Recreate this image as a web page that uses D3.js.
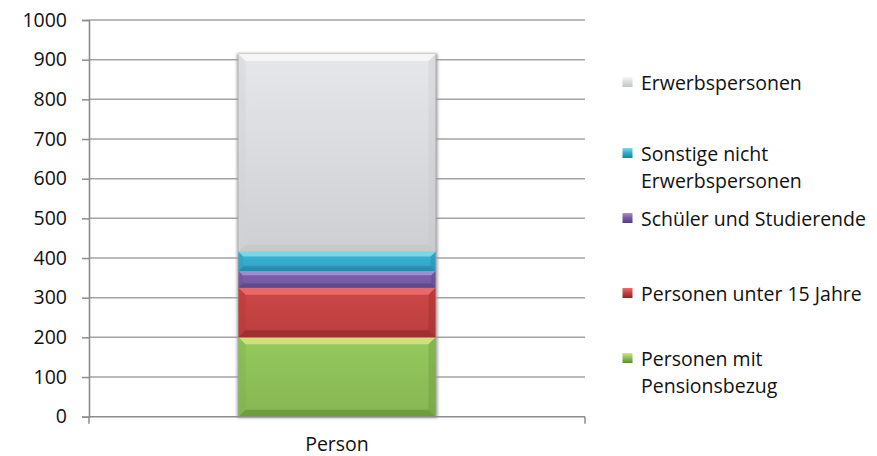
<!DOCTYPE html>
<html>
<head>
<meta charset="utf-8">
<script src="https://cdn.jsdelivr.net/npm/d3@7/dist/d3.min.js"></script>
<style>
  html, body { margin: 0; padding: 0; background: #ffffff; }
  svg { display: block; font-family: "Open Sans", Lato, sans-serif; }
</style>
</head>
<body>
<svg id="chart" width="877" height="456"></svg>
<script>
// Data: persons by status, stacked from bottom to top
const categories = ["Person"];
const seriesNames = [
  "Personen mit Pensionsbezug",
  "Personen unter 15 Jahre",
  "Schüler und Studierende",
  "Sonstige nicht Erwerbspersonen",
  "Erwerbspersonen"
];
const seriesValues = [200, 125, 42, 49, 498];
const yTicks = [0, 100, 200, 300, 400, 500, 600, 700, 800, 900, 1000];
// legend text lines (top to bottom)
const legendLines = [
  ["Erwerbspersonen"],
  ["Sonstige nicht", "Erwerbspersonen"],
  ["Schüler und Studierende"],
  ["Personen unter 15 Jahre"],
  ["Personen mit", "Pensionsbezug"]
];

// colours: face, highlight, shade
const palette = [
  { face: "#8fc259", top: "#d3e67c", bottom: "#5f8c34", side: "#7fb34a" },
  { face: "#c64343", top: "#ea6d6d", bottom: "#8c2626", side: "#b53838" },
  { face: "#7a5da8", top: "#a98fd1", bottom: "#54407a", side: "#6c5198" },
  { face: "#36add0", top: "#82d9ee", bottom: "#217f9c", side: "#2c9ebf" },
  { face: "#dcdde0", top: "#f7f7f8", bottom: "#c3c4c8", side: "#d2d3d6" }
];

const fontSize = "19.5px";
const svg = d3.select("#chart");
const plot = { left: 89, right: 585, top: 20, bottom: 416.7 };

const y = d3.scaleLinear().domain([0, 1000]).range([plot.bottom, plot.top]);
const x = d3.scaleBand().domain(categories).range([plot.left, plot.right]).padding(0);

const defs = svg.append("defs");
const blur = defs.append("filter").attr("id", "shadow")
  .attr("x", "-10%").attr("y", "-10%").attr("width", "120%").attr("height", "120%");
blur.append("feGaussianBlur").attr("stdDeviation", 1.4);

palette.forEach((c, i) => {
  const g = defs.append("linearGradient").attr("id", "grad" + i)
    .attr("x1", 0).attr("y1", 0).attr("x2", 0).attr("y2", 1);
  g.append("stop").attr("offset", "0%").attr("stop-color", d3.color(c.face).brighter(0.12));
  g.append("stop").attr("offset", "100%").attr("stop-color", d3.color(c.face).darker(0.18));
  const m = defs.append("linearGradient").attr("id", "mark" + i)
    .attr("x1", 0).attr("y1", 0).attr("x2", 0).attr("y2", 1);
  m.append("stop").attr("offset", "0%").attr("stop-color", c.top);
  m.append("stop").attr("offset", "45%").attr("stop-color", c.face);
  m.append("stop").attr("offset", "100%").attr("stop-color", c.bottom);
});

// gridlines
const gridColor = "#a3a3a3";
svg.append("g").selectAll("line")
  .data(yTicks.filter(d => d > 0))
  .join("line")
  .attr("x1", plot.left).attr("x2", plot.right)
  .attr("y1", d => y(d)).attr("y2", d => y(d))
  .attr("stroke", gridColor).attr("stroke-width", 1.5);

// y axis
const yAxis = svg.append("g")
  .attr("transform", `translate(${plot.left},0)`)
  .call(d3.axisLeft(y).tickValues(yTicks).tickSize(7).tickPadding(15).tickFormat(d3.format("d")));
yAxis.select(".domain").attr("stroke", "#8c8c8c").attr("stroke-width", 1.6);
yAxis.selectAll(".tick line").attr("stroke", "#8c8c8c").attr("stroke-width", 1.5);
yAxis.selectAll(".tick text").attr("fill", "#111").style("font-size", fontSize)
  .style("font-family", "'Open Sans', Lato, sans-serif");

// stacked segments
const stack = [];
let acc = 0;
seriesValues.forEach((v, i) => { stack.push({ i, y0: acc, y1: acc + v }); acc += v; });

const barRatio = 0.397;
const bw = x.bandwidth() * barRatio;
const bx = x(categories[0]) + (x.bandwidth() - bw) / 2;

// soft shadow behind the stack
svg.append("rect")
  .attr("x", bx - 1.5).attr("y", y(acc) - 0.5)
  .attr("width", bw + 3.5).attr("height", y(0) - y(acc) + 1.5)
  .attr("fill", "#9a9a9a").attr("filter", "url(#shadow)");

const bars = svg.append("g");
stack.forEach(s => {
  const c = palette[s.i];
  const x0 = bx, x1 = bx + bw;
  const y0 = y(s.y1), y1 = y(s.y0);
  const h = y1 - y0;
  const bv = Math.min(7, h / 4);
  const g = bars.append("g");
  g.append("rect").attr("x", x0).attr("y", y0).attr("width", bw).attr("height", h)
    .attr("fill", `url(#grad${s.i})`);
  const poly = pts => g.append("polygon").attr("points", pts.map(p => p.join(",")).join(" "));
  // left and right bevels
  poly([[x0, y0], [x0 + bv, y0 + bv], [x0 + bv, y1 - bv], [x0, y1]]).attr("fill", c.side).attr("opacity", 0.45);
  poly([[x1, y0], [x1 - bv, y0 + bv], [x1 - bv, y1 - bv], [x1, y1]]).attr("fill", c.bottom).attr("opacity", 0.3);
  // top highlight and bottom shade
  poly([[x0, y0], [x1, y0], [x1 - bv, y0 + bv], [x0 + bv, y0 + bv]]).attr("fill", c.top).attr("opacity", 0.9);
  poly([[x0, y1], [x1, y1], [x1 - bv, y1 - bv], [x0 + bv, y1 - bv]]).attr("fill", c.bottom).attr("opacity", 0.6);
});

// x axis
svg.append("line")
  .attr("x1", plot.left).attr("x2", plot.right)
  .attr("y1", y(0)).attr("y2", y(0))
  .attr("stroke", "#8c8c8c").attr("stroke-width", 1.6);
svg.append("g").selectAll("line")
  .data([plot.left, plot.right])
  .join("line")
  .attr("x1", d => d).attr("x2", d => d)
  .attr("y1", y(0)).attr("y2", y(0) + 7)
  .attr("stroke", "#8c8c8c").attr("stroke-width", 1.5);
svg.append("text")
  .attr("x", x(categories[0]) + x.bandwidth() / 2)
  .attr("y", 451)
  .attr("text-anchor", "middle")
  .attr("fill", "#111").style("font-size", fontSize)
  .text(categories[0]);

// legend
const legendTop = [82, 153, 218, 293, 358];
const lineH = 27;
const legend = svg.append("g");
legendLines.forEach((lines, k) => {
  const si = seriesNames.length - 1 - k;
  const cy = legendTop[k];
  legend.append("rect")
    .attr("x", 622.5).attr("y", cy - 5).attr("width", 10).attr("height", 10)
    .attr("fill", `url(#mark${si})`);
  const t = legend.append("text")
    .attr("x", 641).attr("y", cy)
    .attr("dominant-baseline", "central")
    .attr("fill", "#111").style("font-size", fontSize);
  lines.forEach((ln, j) => {
    t.append("tspan").attr("x", 641).attr("y", cy + j * lineH).text(ln);
  });
});
</script>
</body>
</html>
